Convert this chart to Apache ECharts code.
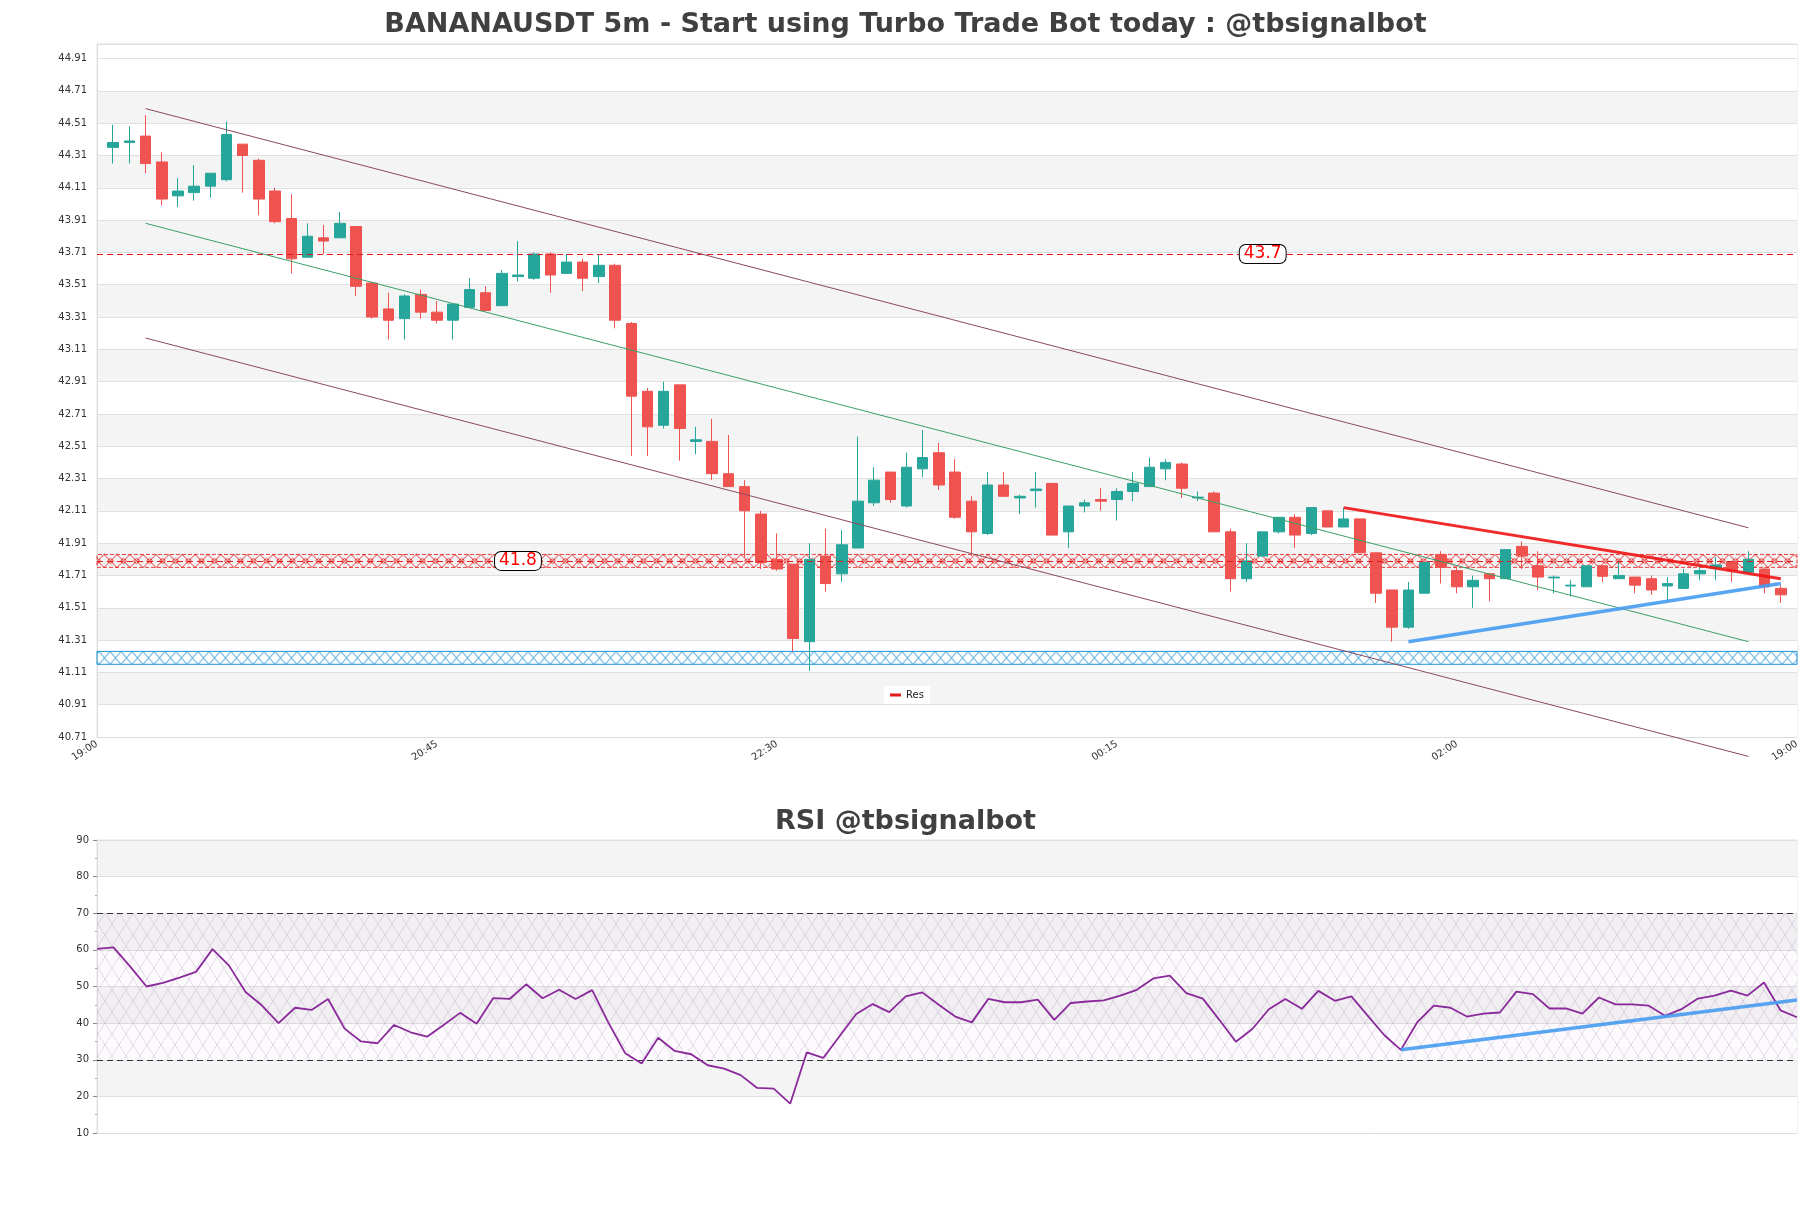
<!DOCTYPE html>
<html>
<head>
<meta charset="utf-8">
<title>BANANAUSDT 5m</title>
<script src="https://cdn.jsdelivr.net/npm/echarts@6/dist/echarts.min.js"></script>
<style>
  html, body { margin: 0; padding: 0; background: #fff; }
  #chart { width: 1811px; height: 1208px; }
</style>
</head>
<body>
<div id="chart"></div>
<script>
// 5m candles, slots 1..104 on the price axis (slot 0 and 105 are empty)
const open = [
  44.36, 44.39, 44.43, 44.27, 44.06, 44.08, 44.12, 44.16, 44.38, 44.28,
  44.09, 43.92, 43.68, 43.80, 43.80, 43.87, 43.52, 43.36, 43.30, 43.45,
  43.34, 43.29, 43.37, 43.46, 43.38, 43.56, 43.55, 43.70, 43.58, 43.65,
  43.56, 43.63, 43.27, 42.85, 42.64, 42.89, 42.54, 42.54, 42.34, 42.26,
  42.09, 41.81, 41.78, 41.30, 41.83, 41.72, 41.88, 42.16, 42.35, 42.14,
  42.37, 42.47, 42.35, 42.17, 41.97, 42.27, 42.19, 42.235, 42.28, 41.98,
  42.14, 42.18, 42.18, 42.23, 42.26, 42.37, 42.40, 42.19, 42.22, 41.98,
  41.69, 41.83, 41.98, 42.07, 41.97, 42.11, 42.01, 42.06, 41.85, 41.62,
  41.39, 41.60, 41.84, 41.74, 41.64, 41.72, 41.69, 41.89, 41.77, 41.695,
  41.645, 41.64, 41.77, 41.69, 41.70, 41.69, 41.645, 41.63, 41.72, 41.755,
  41.795, 41.73, 41.75, 41.63
];
const high = [
  44.50, 44.49, 44.56, 44.33, 44.17, 44.25, 44.20, 44.52, 44.38, 44.29,
  44.11, 44.07, 43.89, 43.88, 43.96, 43.87, 43.53, 43.46, 43.45, 43.48,
  43.41, 43.39, 43.55, 43.50, 43.60, 43.78, 43.71, 43.71, 43.70, 43.67,
  43.70, 43.64, 43.28, 42.87, 42.91, 42.89, 42.63, 42.68, 42.58, 42.30,
  42.11, 41.97, 41.78, 41.91, 42.00, 41.99, 42.57, 42.38, 42.35, 42.47,
  42.61, 42.53, 42.43, 42.20, 42.35, 42.35, 42.21, 42.35, 42.28, 42.14,
  42.18, 42.25, 42.25, 42.35, 42.44, 42.43, 42.41, 42.23, 42.23, 42.00,
  41.91, 41.98, 42.07, 42.09, 42.13, 42.11, 42.13, 42.06, 41.85, 41.62,
  41.67, 41.79, 41.86, 41.76, 41.71, 41.72, 41.87, 41.92, 41.86, 41.71,
  41.68, 41.77, 41.77, 41.80, 41.70, 41.71, 41.70, 41.75, 41.78, 41.825,
  41.795, 41.86, 41.76, 41.65
];
const low = [
  44.26, 44.26, 44.20, 44.00, 43.99, 44.03, 44.05, 44.15, 44.08, 43.94,
  43.89, 43.58, 43.68, 43.70, 43.80, 43.44, 43.30, 43.17, 43.17, 43.30,
  43.27, 43.17, 43.37, 43.35, 43.38, 43.53, 43.54, 43.46, 43.58, 43.47,
  43.52, 43.24, 42.45, 42.45, 42.62, 42.42, 42.46, 42.30, 42.26, 41.82,
  41.75, 41.74, 41.24, 41.12, 41.61, 41.67, 41.88, 42.14, 42.16, 42.13,
  42.32, 42.24, 42.06, 41.83, 41.96, 42.20, 42.09, 42.13, 41.96, 41.88,
  42.10, 42.11, 42.05, 42.17, 42.26, 42.30, 42.19, 42.17, 41.98, 41.61,
  41.67, 41.83, 41.97, 41.88, 41.96, 42.01, 42.01, 41.85, 41.54, 41.30,
  41.38, 41.60, 41.66, 41.60, 41.51, 41.55, 41.69, 41.75, 41.62, 41.60,
  41.58, 41.64, 41.67, 41.69, 41.60, 41.59, 41.55, 41.63, 41.68, 41.68,
  41.67, 41.73, 41.60, 41.54
];
const close = [
  44.39, 44.40, 44.26, 44.04, 44.09, 44.12, 44.20, 44.44, 44.31, 44.04,
  43.90, 43.67, 43.81, 43.78, 43.89, 43.50, 43.31, 43.29, 43.44, 43.34,
  43.29, 43.39, 43.48, 43.35, 43.58, 43.57, 43.70, 43.57, 43.65, 43.55,
  43.63, 43.29, 42.82, 42.63, 42.85, 42.62, 42.55, 42.34, 42.26, 42.11,
  41.79, 41.75, 41.32, 41.81, 41.66, 41.90, 42.17, 42.30, 42.18, 42.38,
  42.44, 42.27, 42.07, 41.98, 42.27, 42.20, 42.20, 42.245, 41.96, 42.14,
  42.16, 42.17, 42.23, 42.28, 42.38, 42.41, 42.25, 42.195, 41.98, 41.69,
  41.80, 41.98, 42.07, 41.96, 42.13, 42.01, 42.06, 41.85, 41.60, 41.39,
  41.62, 41.79, 41.76, 41.64, 41.68, 41.69, 41.87, 41.83, 41.70, 41.70,
  41.65, 41.77, 41.705, 41.71, 41.65, 41.62, 41.66, 41.72, 41.74, 41.775,
  41.74, 41.81, 41.64, 41.59
];
// RSI, one value per candle
const rsi = [
  60.3, 60.7, 55.5, 50.0, 51.0, 52.4, 54.0, 60.2, 55.7, 48.5,
  44.8, 40.0, 44.2, 43.6, 46.6, 38.5, 35.0, 34.5, 39.5, 37.5,
  36.3, 39.5, 42.8, 39.8, 46.8, 46.6, 50.6, 46.8, 49.1, 46.6,
  49.0, 40.0, 31.8, 29.0, 36.0, 32.4, 31.5, 28.5, 27.6, 25.8,
  22.3, 22.1, 18.0, 32.0, 30.5, 36.5, 42.5, 45.2, 43.0, 47.3,
  48.4, 45.0, 41.8, 40.2, 46.6, 45.7, 45.7, 46.4, 40.9, 45.5,
  45.9, 46.2, 47.5, 49.1, 52.2, 53.0, 48.2, 46.7, 40.9, 34.9,
  38.4, 43.8, 46.6, 43.9, 48.8, 46.1, 47.3, 42.0, 36.7, 32.7,
  40.3, 44.8, 44.2, 41.8, 42.6, 42.9, 48.6, 47.9, 44.0, 44.0,
  42.6, 47.0, 45.1, 45.1, 44.8, 42.0, 43.8, 46.7, 47.5, 48.9,
  47.5, 51.1, 43.5, 41.6
];
const xTickLabels = ['19:00', '20:45', '22:30', '00:15', '02:00', '19:00'];
const priceMin = 40.71;
const priceMax = 45.0;
const priceStep = 0.2;
const rsiTicks = [10, 90];
const resLevels = [43.7, 41.8];
const resBand = [41.76, 41.84];
const supBand = [41.16, 41.24];
const rsiBounds = [30, 70];
// trend lines as [slot, price]
const channelUpper = [[3, 44.60], [102, 42.005]];
const channelMid = [[3, 43.89], [102, 41.30]];
const channelLower = [[3, 43.18], [102, 40.59]];
const redTrend = [[77, 42.13], [104, 41.69]];
const blueTrend = [[81, 41.30], [104, 41.66]];
const rsiTrend = [[79, 32.7], [103, 46.3]];

const slots = Array.from({ length: 106 }, (_, i) => String(i));
const rsiSlots = rsi.map((_, i) => String(i));
const candles = open.map((o, i) => [i + 1, o, close[i], low[i], high[i]]);

// cross-hatch tile; inner = draw a small diamond in the middle
function hatch(w, h, color, bg, inner) {
  const c = document.createElement('canvas');
  c.width = w; c.height = h;
  const g = c.getContext('2d');
  if (bg) { g.fillStyle = bg; g.fillRect(0, 0, w, h); }
  g.strokeStyle = color;
  g.lineWidth = 1;
  g.beginPath();
  g.moveTo(0, 0); g.lineTo(w, h);
  g.moveTo(w, 0); g.lineTo(0, h);
  if (inner) {
    g.moveTo(w / 2 - 3, h / 2); g.lineTo(w / 2, h / 2 - 2.5); g.lineTo(w / 2 + 3, h / 2);
    g.lineTo(w / 2, h / 2 + 2.5); g.closePath();
  }
  g.stroke();
  return c;
}

const GRAY = '#f4f4f4';
const nBands = Math.ceil((priceMax - priceMin) / priceStep);
const priceAreaColors = Array.from({ length: nBands }, (_, k) => (k % 2 === 1 && k < nBands - 1) ? GRAY : '#ffffff');

const redTile = { image: hatch(13, 13, 'rgba(230,20,20,0.85)', null, true), repeat: 'repeat' };
const blueTile = { image: hatch(11, 13, 'rgba(31,147,216,0.95)'), repeat: 'repeat' };

const chart = echarts.init(document.getElementById('chart'));
const option = {
  animation: false,
  backgroundColor: '#fff',
  textStyle: { fontFamily: 'DejaVu Sans' },
  title: [
    { text: 'BANANAUSDT 5m - Start using Turbo Trade Bot today : @tbsignalbot', left: 'center', top: 6,
      textStyle: { fontSize: 27, fontWeight: 'bold', color: '#404040' } },
    { text: 'RSI @tbsignalbot', left: 'center', top: 803,
      textStyle: { fontSize: 27, fontWeight: 'bold', color: '#404040' } }
  ],
  legend: {
    data: ['Res'], left: 884, top: 686, backgroundColor: '#fff', padding: [4, 6],
    icon: 'rect', itemWidth: 11, itemHeight: 3, itemGap: 4,
    textStyle: { fontSize: 10, color: '#222' }
  },
  grid: [
    { left: 97, right: 14, top: 44, bottom: 471, outerBoundsMode: 'none',
      show: true, borderColor: '#e2e2e2', borderWidth: 1 },
    { left: 97, right: 14, top: 840, bottom: 75, outerBoundsMode: 'none',
      show: true, borderColor: '#e2e2e2', borderWidth: 1 }
  ],
  xAxis: [
    { type: 'category', gridIndex: 0, data: slots, boundaryGap: false,
      axisLine: { lineStyle: { color: '#dcdcdc' } }, axisTick: { show: false },
      axisLabel: { interval: 20, rotate: 33, fontSize: 10, color: '#333', margin: 6,
        formatter: (v, idx) => xTickLabels[Math.round(idx / 21)] || '' },
      splitLine: { show: false } },
    { type: 'category', gridIndex: 1, data: rsiSlots, boundaryGap: false,
      axisLine: { lineStyle: { color: '#dcdcdc' } }, axisTick: { show: false },
      axisLabel: { show: false }, splitLine: { show: false } }
  ],
  yAxis: [
    // price axis that carries the data
    { type: 'value', gridIndex: 0, position: 'left', min: priceMin, max: priceMax, show: false },
    // label axis: offsets from priceMin so ticks start on 40.71
    { type: 'value', gridIndex: 0, position: 'left', min: 0, max: +(priceMax - priceMin).toFixed(2), interval: priceStep,
      axisLine: { show: true, lineStyle: { color: '#dcdcdc' } }, axisTick: { show: false },
      axisLabel: { fontSize: 10, color: '#333', margin: 10,
        formatter: v => v > (nBands - 1) * priceStep + 1e-6 ? '' : (v + priceMin).toFixed(2) },
      splitLine: { lineStyle: { color: '#e0e0e0' } },
      splitArea: { show: true, areaStyle: { color: priceAreaColors } } },
    { type: 'value', gridIndex: 1, min: rsiTicks[0], max: rsiTicks[1], interval: 10,
      axisLine: { show: true, lineStyle: { color: '#dcdcdc' } },
      axisTick: { show: true, length: 4, lineStyle: { color: '#888' } },
      minorTick: { show: true, splitNumber: 2, length: 2, lineStyle: { color: '#aaa' } },
      axisLabel: { fontSize: 10, color: '#333', margin: 8 },
      splitLine: { lineStyle: { color: '#e0e0e0' } },
      splitArea: { show: true, areaStyle: { color: ['#ffffff', GRAY] } } }
  ],
  series: [
    { type: 'candlestick', xAxisIndex: 0, yAxisIndex: 0, data: candles, barWidth: 11,
      encode: { x: 0, y: [1, 2, 3, 4] },
      itemStyle: { color: '#26a69a', color0: '#ef5350', borderColor: '#26a69a', borderColor0: '#ef5350', borderWidth: 1 },
      z: 2 },
    { name: 'Res', type: 'line', xAxisIndex: 0, yAxisIndex: 0, data: [], color: '#e31a1c', z: 4,
      markArea: { silent: true,
        itemStyle: { color: redTile, opacity: 1,
          borderColor: 'rgba(230,20,20,0.8)', borderWidth: 1, borderType: [4, 2] },
        data: [[{ yAxis: resBand[0] }, { yAxis: resBand[1] }]] },
      markLine: { silent: true, symbol: 'none', label: { show: false },
        lineStyle: { color: '#e31a1c', type: [6, 4], width: 1.2 },
        data: resLevels.map(v => ({ yAxis: v })) },
      markPoint: { silent: true, symbol: 'circle', symbolSize: 0,
        label: { show: true, position: 'inside', formatter: '{c}', color: '#ff0000', fontSize: 17,
          backgroundColor: '#fff', borderColor: '#000', borderWidth: 1, borderRadius: 6, padding: [1, 4, 0, 4] },
        data: [{ coord: [72, resLevels[0]], value: resLevels[0] }, { coord: [26, resLevels[1]], value: resLevels[1] }] } },
    { name: 'Sup', type: 'line', xAxisIndex: 0, yAxisIndex: 0, data: [], color: '#1f93d8', z: 4,
      markArea: { silent: true,
        itemStyle: { color: blueTile, opacity: 1, borderColor: '#1f93d8', borderWidth: 1 },
        data: [[{ yAxis: supBand[0] }, { yAxis: supBand[1] }]] } },
    { type: 'line', xAxisIndex: 0, yAxisIndex: 0, data: channelUpper, symbol: 'none', clip: false, z: 5,
      lineStyle: { color: '#8a4a5c', width: 1 } },
    { type: 'line', xAxisIndex: 0, yAxisIndex: 0, data: channelMid, symbol: 'none', clip: false, z: 5,
      lineStyle: { color: '#3aa067', width: 1 } },
    { type: 'line', xAxisIndex: 0, yAxisIndex: 0, data: channelLower, symbol: 'none', clip: false, z: 5,
      lineStyle: { color: '#8a4a5c', width: 1 } },
    { type: 'line', xAxisIndex: 0, yAxisIndex: 0, data: redTrend, symbol: 'none', z: 6,
      lineStyle: { color: 'rgba(240,20,20,0.9)', width: 3 } },
    { type: 'line', xAxisIndex: 0, yAxisIndex: 0, data: blueTrend, symbol: 'none', z: 6,
      lineStyle: { color: 'rgba(70,155,240,0.9)', width: 3.5 } },
    { type: 'line', xAxisIndex: 1, yAxisIndex: 2, data: rsi, symbol: 'none', z: 5,
      lineStyle: { color: '#8a2a9a', width: 1.8 },
      markArea: { silent: true,
        itemStyle: { color: { image: hatch(14, 22, 'rgba(140,100,160,0.22)', 'rgba(200,170,220,0.06)'), repeat: 'repeat' }, opacity: 1 },
        data: [[{ yAxis: rsiBounds[0] }, { yAxis: rsiBounds[1] }]] },
      markLine: { silent: true, symbol: 'none', label: { show: false },
        lineStyle: { color: '#333', type: [6, 4], width: 1.2 },
        data: rsiBounds.map(v => ({ yAxis: v })) } },
    { type: 'line', xAxisIndex: 1, yAxisIndex: 2, data: rsiTrend, symbol: 'none', z: 6,
      lineStyle: { color: 'rgba(70,155,240,0.9)', width: 3.5 } }
  ]
};
chart.setOption(option);

// line the hatch tiles up with the top of their bands
redTile.y = chart.convertToPixel({ yAxisIndex: 0 }, resBand[1]);
blueTile.y = chart.convertToPixel({ yAxisIndex: 0 }, supBand[1]);
chart.setOption(option, true);
</script>
</body>
</html>
